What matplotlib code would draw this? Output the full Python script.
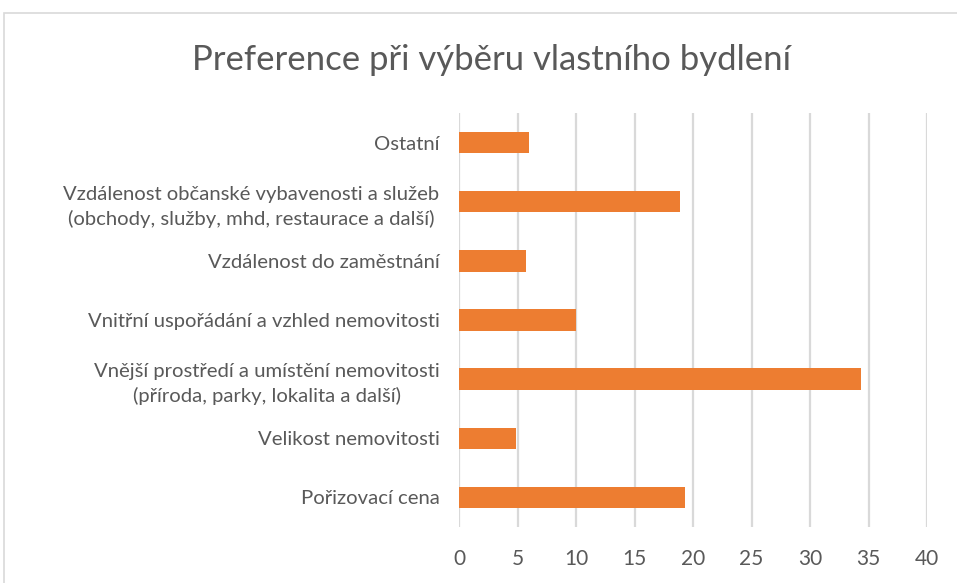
import matplotlib
matplotlib.use('Agg')
import matplotlib.pyplot as plt
from matplotlib.patches import Rectangle

plt.rcParams['font.family'] = ['Lato', 'DejaVu Sans']

categories = [
    'Pořizovací cena',
    'Velikost nemovitosti',
    'Vnější prostředí a umístění nemovitosti\n(příroda, parky, lokalita a další)',
    'Vnitřní uspořádání a vzhled nemovitosti',
    'Vzdálenost do zaměstnání',
    'Vzdálenost občanské vybavenosti a služeb\n(obchody, služby, mhd, restaurace a další)',
    'Ostatní',
]
values = [19.3, 4.9, 34.4, 10.0, 5.7, 18.9, 6.0]
ticks = [0, 5, 10, 15, 20, 25, 30, 35, 40]

grey = '#595959'
fig = plt.figure(figsize=(9.57, 5.83), dpi=100)
ax = fig.add_axes([459/957, 1 - 527/583, 468/957, 414/583])

ax.barh(range(len(categories)), values, height=0.36, color='#ed7d31', zorder=3)
ax.set_ylim(-0.5, len(categories) - 0.5)
ax.set_xlim(0, 40)
ax.set_xticks(ticks)
ax.set_yticks(range(len(categories)))
ax.set_yticklabels(categories, fontsize=14.6, color=grey, linespacing=1.45,
                   multialignment='center')
ax.tick_params(axis='x', labelsize=15, colors=grey, length=0, pad=16)
ax.tick_params(axis='y', length=0, pad=14)
ax.grid(axis='x', color='#d9d9d9', linewidth=1.6, zorder=0)
for s in ax.spines.values():
    s.set_visible(False)

fig.text(491/957, 1 - 60/583, 'Preference při výběru vlastního bydlení',
         ha='center', va='center', fontsize=25, color=grey)

fig.patches.append(Rectangle((4/957, -0.1), 1.2, 1 - 13/583 + 0.1,
                             transform=fig.transFigure, fill=False,
                             edgecolor='#d9d9d9', linewidth=1.2))

fig.savefig('out.png', dpi=100)
